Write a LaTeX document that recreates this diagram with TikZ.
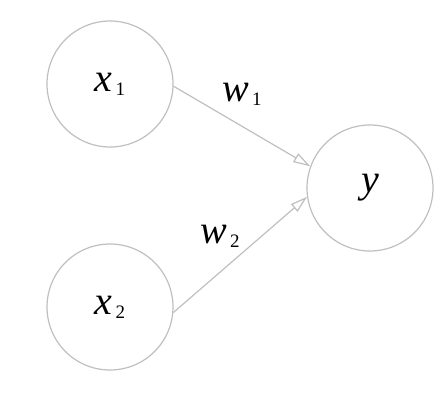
\documentclass[tikz,border=0pt]{standalone}
\usepackage{fontspec}
\setmainfont{Liberation Serif}
\usetikzlibrary{arrows.meta}

% variable with a small upright index
\newcommand{\varsub}[2]{\textit{#1}\hspace{3pt}{\fontsize{19}{19}\selectfont\raisebox{-4pt}{#2}}}

\begin{document}
\begin{tikzpicture}[x=1pt, y=-1pt, ->, >={Triangle[open, length=17pt, width=10pt]},
    neuron/.style={circle, draw=black!25, line width=1.2pt, minimum size=126pt, inner sep=0pt,
      font=\fontsize{40}{40}\selectfont},
    weight/.style={font=\fontsize{40}{40}\selectfont, inner sep=0pt},
    link/.style={draw=black!25, line width=1.2pt}]
  \useasboundingbox (0,0) rectangle (448,399);

  \node[neuron] (X1) at (110,84) {\varsub{x}{1}};
  \node[neuron] (X2) at (110,307) {\varsub{x}{2}};
  \node[neuron] (Y) at (370,188) {\textit{y}};

  \draw[link] (X1.-2) -- (Y.160);
  \draw[link] (X2.-5) -- (Y.188);

  \node[weight] (W1) at (242,94) {\varsub{w}{1}};
  \node[weight] (W2) at (220,236) {\varsub{w}{2}};
\end{tikzpicture}
\end{document}
